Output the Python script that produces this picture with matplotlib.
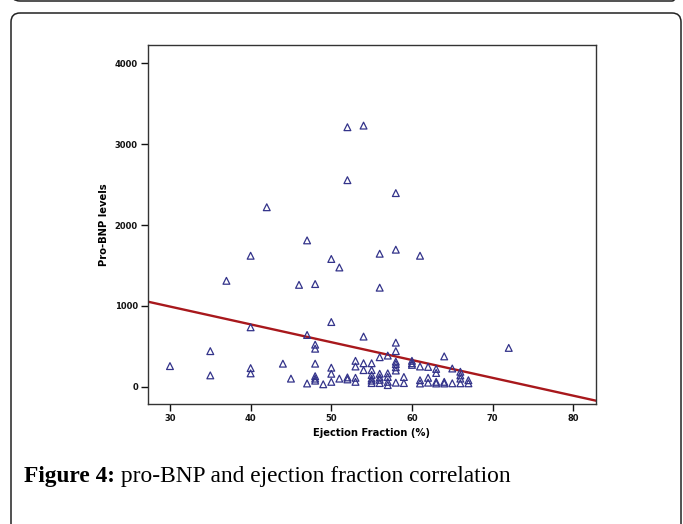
import numpy as np
import matplotlib
matplotlib.use('Agg')
import matplotlib.pyplot as plt
from matplotlib.patches import FancyBboxPatch

# ejection fraction (%) and pro-BNP level for each patient
ef = [30,
      35, 35,
      37,
      40, 40, 40, 40,
      42, 44, 45, 46,
      47, 47, 47,
      48, 48, 48, 48, 48, 48, 48,
      49,
      50, 50, 50, 50, 50,
      51, 51,
      52, 52, 52, 52,
      53, 53, 53, 53,
      54, 54, 54, 54,
      55, 55, 55, 55, 55, 55,
      56, 56, 56, 56, 56, 56, 56,
      57, 57, 57, 57, 57,
      58, 58, 58, 58, 58, 58, 58, 58, 58,
      59, 59,
      60, 60, 60,
      61, 61, 61, 61,
      62, 62, 62,
      63, 63, 63, 63,
      64, 64, 64,
      65, 65,
      66, 66, 66, 66,
      67, 67,
      72]
bnp = [255,
       440, 140,
       1310,
       1620, 735, 230, 165,
       2220, 285, 100, 1260,
       1810, 640, 40,
       1270, 520, 470, 285, 130, 100, 75,
       30,
       1580, 800, 235, 160, 60,
       1475, 100,
       3210, 2555, 115, 90,
       320, 250, 110, 60,
       3230, 620, 290, 205,
       290, 205, 145, 100, 75, 45,
       1645, 1225, 365, 160, 115, 85, 45,
       385, 165, 120, 60, 20,
       2395, 1695, 545, 440, 310, 280, 240, 200, 50,
       120, 45,
       320, 290, 270,
       1620, 250, 80, 40,
       245, 110, 50,
       220, 170, 60, 40,
       375, 60, 40,
       225, 42,
       185, 140, 100, 42,
       80, 42,
       480]

# fit line as drawn in the original
fit_intercept = 1653.0
fit_slope = -22.05

x_ticks = [30, 40, 50, 60, 70, 80]
y_ticks = [0, 1000, 2000, 3000, 4000]

fig = plt.figure(figsize=(6.83, 5.24), dpi=100)

# page decoration in pixel coordinates
bg = fig.add_axes([0, 0, 1, 1], zorder=0)
bg.set_xlim(0, 683)
bg.set_ylim(524, 0)
bg.axis('off')
bg.add_patch(FancyBboxPatch((11, -60), 670, 61, boxstyle='round,pad=0,rounding_size=9',
                            fc='none', ec='#222222', lw=1.1))
bg.add_patch(FancyBboxPatch((11, 13), 670, 560, boxstyle='round,pad=0,rounding_size=9',
                            fc='none', ec='#222222', lw=1.1))

t1 = bg.text(24, 482, 'Figure 4:', family='Liberation Serif', fontsize=16.8,
             fontweight='bold', ha='left', va='baseline')
bg.annotate(' pro-BNP and ejection fraction correlation', xy=(1, 0), xycoords=t1,
            ha='left', va='bottom', family='Liberation Serif', fontsize=16.8)

ax = fig.add_axes([147.7/683, 1 - 404/524, 448/683, 359/524], zorder=1)
ax.set_facecolor('none')

ax.scatter(ef, bnp, marker='^', s=24, facecolors='none', edgecolors='#33338a',
           linewidths=0.9, zorder=3)

xs = np.array([27.2, 82.8])
ax.plot(xs, fit_intercept + fit_slope*xs, color='#a8181c', lw=1.7, zorder=2)

ax.set_xlim(27.24, 82.78)
ax.set_ylim(-214, 4227)
ax.set_xticks(x_ticks)
ax.set_yticks(y_ticks)
ax.tick_params(direction='out', length=5, width=1, pad=2, labelsize=6,
               colors='#111111')
for lab in ax.get_xticklabels() + ax.get_yticklabels():
    lab.set_fontweight('bold')
for sp in ax.spines.values():
    sp.set_linewidth(1.0)
    sp.set_color('#333333')

ax.set_xlabel('Ejection Fraction (%)', fontsize=7.2, fontweight='bold', labelpad=4)
ax.set_ylabel('Pro-BNP levels', fontsize=7.2, fontweight='bold', labelpad=4)

plt.savefig('out.png', dpi=100)
